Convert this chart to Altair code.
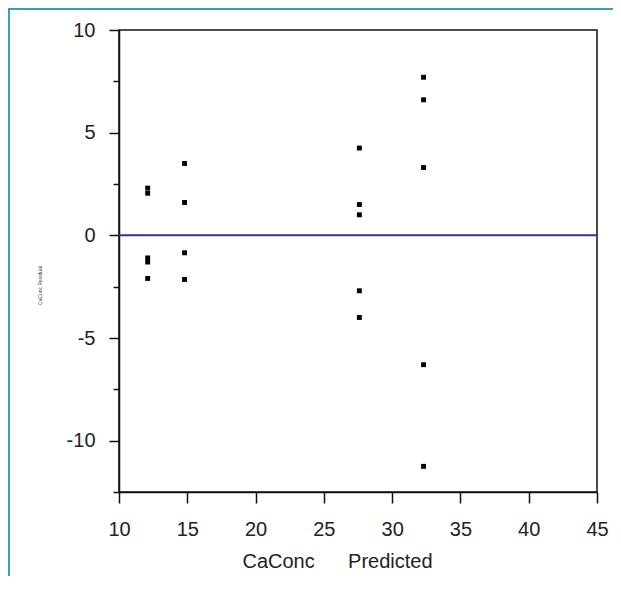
import altair as alt
import pandas as pd

# data
predicted = [12.1, 12.1, 12.1, 12.1, 12.1,
             14.8, 14.8, 14.8, 14.8,
             27.6, 27.6, 27.6, 27.6, 27.6,
             32.3, 32.3, 32.3, 32.3, 32.3]
residual = [2.3, 2.05, -1.1, -1.3, -2.1,
            3.5, 1.6, -0.85, -2.15,
            4.25, 1.5, 1.0, -2.7, -4.0,
            7.7, 6.6, 3.3, -6.3, -11.25]
x_ticks = [10, 15, 20, 25, 30, 35, 40, 45]
y_major = [-10, -5, 0, 5, 10]
y_minor = [-12.5, -7.5, -2.5, 2.5, 7.5]

df = pd.DataFrame({"pred": predicted, "res": residual})

W, H = 478, 462
FONT = "Liberation Sans"

xscale = alt.Scale(domain=[10, 45], nice=False, zero=False)
yscale = alt.Scale(domain=[-12.5, 10], nice=False, zero=False)

points = alt.Chart(df).mark_square(size=24, color="black", opacity=1).encode(
    x=alt.X("pred:Q", scale=xscale,
            axis=alt.Axis(values=x_ticks, title="CaConc\u00a0\u00a0\u00a0\u00a0\u00a0\u00a0Predicted",
                          tickSize=11, labelPadding=16, grid=False, labelFlush=False,
                          labelExpr="toString(datum.value)",
                          titleX=218, titleY=75, titleAlign="center",
                          titleBaseline="alphabetic", titleFontWeight="normal")),
    y=alt.Y("res:Q", scale=yscale,
            axis=alt.Axis(values=y_major, title="CaConc Residual", tickSize=10, orient="left",
                          labelPadding=14, grid=False, labelFlush=False,
                          labelExpr="toString(datum.value)", titleFontSize=5,
                          titleColor="#444", titleX=-80, titleY=255, titleAngle=270,
                          titleAlign="center", titleBaseline="middle",
                          titleFontWeight="normal")),
)

minor = alt.Chart(pd.DataFrame({"v": y_minor})).mark_tick(opacity=0).encode(
    y=alt.Y("v:Q", scale=yscale,
            axis=alt.Axis(values=y_minor, tickSize=6, labels=False, domain=False, orient="left",
                          title=None, grid=False)),
)

zero_line = alt.Chart(pd.DataFrame({"z": [0]})).mark_rule(
    color="#3f2c98", strokeWidth=2
).encode(y=alt.Y("z:Q", scale=yscale, axis=None))

border = alt.Chart(pd.DataFrame({"a": [0]})).mark_rect(
    fill=None, stroke="#3a9cc4", strokeWidth=2
).encode(x=alt.value(-110), y=alt.value(-21), x2=alt.value(700), y2=alt.value(800))

chart = alt.layer(border, zero_line, points, minor).resolve_axis(y="independent").properties(
    width=W, height=H,
    autosize=alt.AutoSizeParams(type="none"),
    padding={"left": 111, "top": 22, "right": 16, "bottom": 84},
    background="white",
).configure_view(
    stroke="#111", strokeWidth=1.5
).configure_axis(
    domainColor="#111", domainWidth=1.5, tickColor="#111", tickWidth=1.5,
    labelFont=FONT, labelFontSize=20, labelColor="#222",
    titleFont=FONT, titleFontSize=20, titleColor="#222", grid=False,
)

chart.save("out.html", embed_options={"renderer": "svg", "actions": False})
